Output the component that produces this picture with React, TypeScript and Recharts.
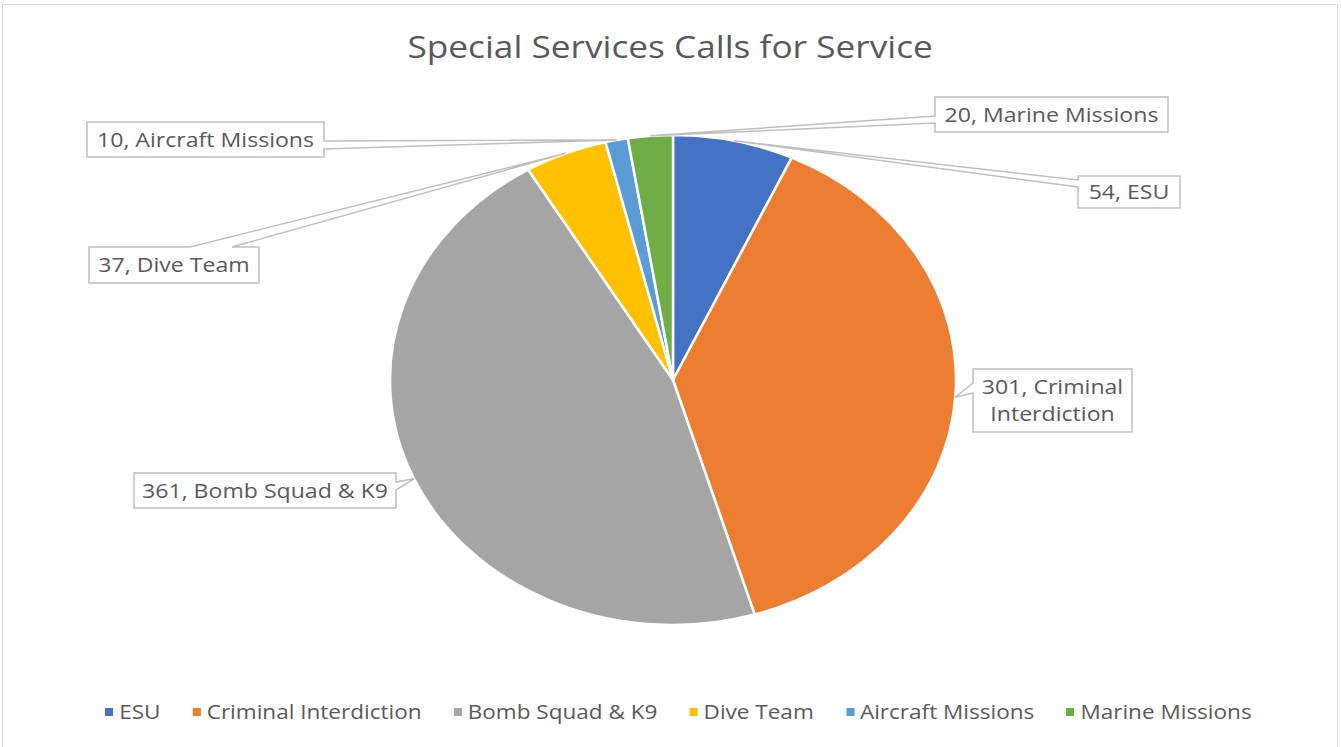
// Special Services pie chart, Excel style callouts
import React from 'react';
import { PieChart, Pie, Cell, Legend } from 'recharts';

const categories = ['ESU', 'Criminal Interdiction', 'Bomb Squad & K9', 'Dive Team', 'Aircraft Missions', 'Marine Missions'];
const calls = [54, 301, 361, 37, 10, 20];
const colors = ['#4472C4', '#ED7D31', '#A5A5A5', '#FFC000', '#5B9BD5', '#70AD47'];

const data = categories.map((name, i) => ({ name, value: calls[i] }));

const W = 1341;
const H = 747;
const FONT = '"Open Sans", "Noto Sans", sans-serif';
const TEXT = '#595959';
const EDGE = '#BFBFBF';
const STRETCH = 283 / 245; // the original picture is stretched sideways, pie and text alike
const RAD = Math.PI / 180;

// callout boxes placed by hand, like the original. side = where the pointer leaves the box,
// a/b = pointer base along that side (offset from box top or left)
const callouts = [
  { x: 1078, y: 176, w: 102, h: 32, side: 'left', a: 4, b: 11, breakAfter: 0 },
  { x: 973, y: 369, w: 159, h: 63, side: 'left', a: 14, b: 24, breakAfter: 2 },
  { x: 134, y: 473, w: 262, h: 35, side: 'right', a: 9, b: 17, breakAfter: 0 },
  { x: 89, y: 247, w: 170, h: 36, side: 'top', a: 101, b: 143, breakAfter: 0 },
  { x: 87, y: 122, w: 237, h: 35, side: 'right', a: 19, b: 27, breakAfter: 0 },
  { x: 935, y: 97, w: 233, h: 35, side: 'left', a: 19, b: 26, breakAfter: 0 },
];

const EllipseSector = (props: any) => {
  const { cx, cy, outerRadius, startAngle, endAngle, fill } = props;
  const rx = outerRadius * STRETCH;
  const ry = outerRadius;
  const pt = (a: number) => [cx + rx * Math.cos(a * RAD), cy - ry * Math.sin(a * RAD)];
  const [x1, y1] = pt(startAngle);
  const [x2, y2] = pt(endAngle);
  const delta = endAngle - startAngle;
  const large = Math.abs(delta) > 180 ? 1 : 0;
  const sweep = delta < 0 ? 1 : 0;
  const d = `M${cx},${cy} L${x1},${y1} A${rx},${ry} 0 ${large} ${sweep} ${x2},${y2} Z`;
  return <path d={d} fill={fill} stroke="#ffffff" strokeWidth={2.5} strokeLinejoin="round" />;
};

const calloutPath = (c: any, tx: number, ty: number) => {
  const x0 = c.x, y0 = c.y, x1 = c.x + c.w, y1 = c.y + c.h;
  let d = `M${x0},${y0}`;
  if (c.side === 'top') d += ` L${x0 + c.a},${y0} L${tx},${ty} L${x0 + c.b},${y0}`;
  d += ` L${x1},${y0}`;
  if (c.side === 'right') d += ` L${x1},${y0 + c.a} L${tx},${ty} L${x1},${y0 + c.b}`;
  d += ` L${x1},${y1} L${x0},${y1}`;
  if (c.side === 'left') d += ` L${x0},${y0 + c.b} L${tx},${ty} L${x0},${y0 + c.a}`;
  return d + ' Z';
};

const renderCallout = (props: any) => {
  const { cx, cy, midAngle, outerRadius, index, name, value } = props;
  const c = callouts[index];
  const tx = cx + outerRadius * STRETCH * Math.cos(midAngle * RAD);
  const ty = cy - outerRadius * Math.sin(midAngle * RAD);
  const words = `${value}, ${name}`.split(' ');
  const lines = c.breakAfter
    ? [words.slice(0, c.breakAfter).join(' '), words.slice(c.breakAfter).join(' ')]
    : [words.join(' ')];
  const lh = 27;
  const firstY = c.y + c.h / 2 - ((lines.length - 1) * lh) / 2 + 7;
  return (
    <g key={`callout-${index}`}>
      <path d={calloutPath(c, tx, ty)} fill="#ffffff" stroke={EDGE} strokeWidth={1.5} />
      {lines.map((line, i) => (
        <text
          key={i}
          transform={`translate(${c.x + c.w / 2} ${firstY + i * lh}) scale(${STRETCH} 1)`}
          textAnchor="middle"
          fill={TEXT}
          fontSize={20}
          fontFamily={FONT}
        >
          {line}
        </text>
      ))}
    </g>
  );
};

const LegendRow = () => (
  <div
    style={{
      display: 'flex',
      justifyContent: 'center',
      alignItems: 'center',
      gap: 28,
      fontFamily: FONT,
      fontSize: 19.5,
      color: TEXT,
      transform: `scaleX(${STRETCH})`,
      transformOrigin: 'center',
    }}
  >
    {categories.map((name, i) => (
      <div key={name} style={{ display: 'flex', alignItems: 'center' }}>
        <span style={{ width: 7, height: 8, background: colors[i], marginRight: 5, display: 'inline-block' }} />
        <span>{name}</span>
      </div>
    ))}
  </div>
);

export default function App() {
  return (
    <div style={{ position: 'fixed', left: 0, top: 0, width: W, height: H, overflow: 'hidden', background: '#fff' }}>
      <div
        style={{
          position: 'absolute',
          left: 2,
          top: 4,
          width: W - 5,
          height: H + 20,
          border: '1.5px solid #D9D9D9',
          boxSizing: 'border-box',
        }}
      />
      <PieChart width={W} height={H} margin={{ top: 0, right: 0, bottom: 0, left: 0 }}>
        <Pie
          data={data}
          dataKey="value"
          nameKey="name"
          cx={673}
          cy={380}
          outerRadius={245}
          startAngle={90}
          endAngle={-270}
          label={renderCallout}
          labelLine={false}
          shape={EllipseSector}
          inactiveShape={EllipseSector}
          activeShape={EllipseSector}
          isAnimationActive={false}
        >
          {data.map((d, i) => (
            <Cell key={d.name} fill={colors[i]} />
          ))}
        </Pie>
        <Legend content={LegendRow} verticalAlign="bottom" wrapperStyle={{ left: 8, top: 698, width: W }} />
      </PieChart>
      <div
        style={{
          position: 'absolute',
          left: 0,
          top: 31,
          width: W,
          textAlign: 'center',
          fontFamily: FONT,
          fontSize: 30.5,
          lineHeight: '30px',
          color: TEXT,
          transform: `scaleX(${STRETCH})`,
          transformOrigin: '673px 0',
        }}
      >
        Special Services Calls for Service
      </div>
    </div>
  );
}
